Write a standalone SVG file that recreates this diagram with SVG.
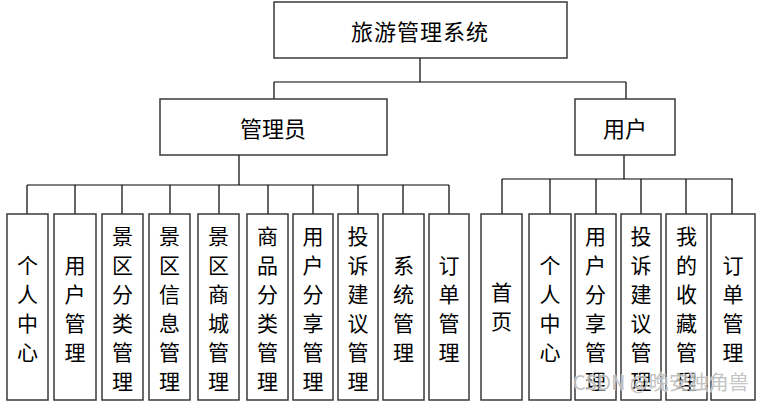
<svg xmlns="http://www.w3.org/2000/svg" width="762" height="401" viewBox="0 0 762 401">
<style>
.box{fill:#fff;stroke:#3a3a3a;stroke-width:1.5}
.ln{fill:none;stroke:#000;stroke-width:1.2}
.t{font-family:"Noto Sans CJK SC","Noto Sans",sans-serif;font-size:21px;fill:#000;text-anchor:middle;dominant-baseline:central}
.h{font-size:22px}
.wm{font-family:"Noto Sans CJK SC","Noto Sans",sans-serif;font-size:20px;fill:#b4b4b4;fill-opacity:0.8;stroke:#fff;stroke-width:1.5;stroke-opacity:0.6;paint-order:stroke}
</style>
<rect width="762" height="401" fill="#fff"/>
<g id="connectors">
<path class="ln" d="M420,58V82M274,82H626M274,82V99M626,82V99"/>
<path class="ln" d="M239,155V185M27,185H449M27,185V214M75,185V214M122,185V214M170,185V214M219,185V214M268,185V214M313,185V214M358,185V214M403,185V214M449,185V214"/>
<path class="ln" d="M624,155V179M502,179H733M502,179V214M550,179V214M596,179V214M641,179V214M686,179V214M732,179V214"/>
</g>
<g id="root"><rect class="box" x="274" y="2" width="293" height="56"/><text class="t h" x="420" y="30" letter-spacing="1">旅游管理系统</text></g>
<g id="admin"><rect class="box" x="160" y="99" width="227" height="56"/><text class="t h" x="273" y="127">管理员</text></g>
<g id="user"><rect class="box" x="575" y="99" width="100" height="56"/><text class="t h" x="625" y="127">用户</text></g>

<g id="a1"><rect class="box" x="7" y="214" width="41" height="186"/><text class="t"><tspan x="27.5" y="263.5">个</tspan><tspan x="27.5" y="292.5">人</tspan><tspan x="27.5" y="321.5">中</tspan><tspan x="27.5" y="350.5">心</tspan></text></g>
<g id="a2"><rect class="box" x="54" y="214" width="42" height="186"/><text class="t"><tspan x="75" y="263.5">用</tspan><tspan x="75" y="292.5">户</tspan><tspan x="75" y="321.5">管</tspan><tspan x="75" y="350.5">理</tspan></text></g>
<g id="a3"><rect class="box" x="102" y="214" width="41" height="186"/><text class="t"><tspan x="122.5" y="234.5">景</tspan><tspan x="122.5" y="263.5">区</tspan><tspan x="122.5" y="292.5">分</tspan><tspan x="122.5" y="321.5">类</tspan><tspan x="122.5" y="350.5">管</tspan><tspan x="122.5" y="379.5">理</tspan></text></g>
<g id="a4"><rect class="box" x="149" y="214" width="41" height="186"/><text class="t"><tspan x="169.5" y="234.5">景</tspan><tspan x="169.5" y="263.5">区</tspan><tspan x="169.5" y="292.5">信</tspan><tspan x="169.5" y="321.5">息</tspan><tspan x="169.5" y="350.5">管</tspan><tspan x="169.5" y="379.5">理</tspan></text></g>
<g id="a5"><rect class="box" x="198" y="214" width="41" height="186"/><text class="t"><tspan x="218.5" y="234.5">景</tspan><tspan x="218.5" y="263.5">区</tspan><tspan x="218.5" y="292.5">商</tspan><tspan x="218.5" y="321.5">城</tspan><tspan x="218.5" y="350.5">管</tspan><tspan x="218.5" y="379.5">理</tspan></text></g>
<g id="a6"><rect class="box" x="247" y="214" width="41" height="186"/><text class="t"><tspan x="267.5" y="234.5">商</tspan><tspan x="267.5" y="263.5">品</tspan><tspan x="267.5" y="292.5">分</tspan><tspan x="267.5" y="321.5">类</tspan><tspan x="267.5" y="350.5">管</tspan><tspan x="267.5" y="379.5">理</tspan></text></g>
<g id="a7"><rect class="box" x="293" y="214" width="40" height="186"/><text class="t"><tspan x="313" y="234.5">用</tspan><tspan x="313" y="263.5">户</tspan><tspan x="313" y="292.5">分</tspan><tspan x="313" y="321.5">享</tspan><tspan x="313" y="350.5">管</tspan><tspan x="313" y="379.5">理</tspan></text></g>
<g id="a8"><rect class="box" x="338" y="214" width="40" height="186"/><text class="t"><tspan x="358" y="234.5">投</tspan><tspan x="358" y="263.5">诉</tspan><tspan x="358" y="292.5">建</tspan><tspan x="358" y="321.5">议</tspan><tspan x="358" y="350.5">管</tspan><tspan x="358" y="379.5">理</tspan></text></g>
<g id="a9"><rect class="box" x="383" y="214" width="41" height="186"/><text class="t"><tspan x="403.5" y="263.5">系</tspan><tspan x="403.5" y="292.5">统</tspan><tspan x="403.5" y="321.5">管</tspan><tspan x="403.5" y="350.5">理</tspan></text></g>
<g id="a10"><rect class="box" x="429" y="214" width="40" height="186"/><text class="t"><tspan x="449" y="263.5">订</tspan><tspan x="449" y="292.5">单</tspan><tspan x="449" y="321.5">管</tspan><tspan x="449" y="350.5">理</tspan></text></g>

<g id="u1"><rect class="box" x="481" y="214" width="41" height="186"/><text class="t"><tspan x="501.5" y="291">首</tspan><tspan x="501.5" y="320">页</tspan></text></g>
<g id="u2"><rect class="box" x="529" y="214" width="42" height="186"/><text class="t"><tspan x="550" y="263.5">个</tspan><tspan x="550" y="292.5">人</tspan><tspan x="550" y="321.5">中</tspan><tspan x="550" y="350.5">心</tspan></text></g>
<g id="u3"><rect class="box" x="575" y="214" width="41" height="186"/><text class="t"><tspan x="595.5" y="234.5">用</tspan><tspan x="595.5" y="263.5">户</tspan><tspan x="595.5" y="292.5">分</tspan><tspan x="595.5" y="321.5">享</tspan><tspan x="595.5" y="350.5">管</tspan><tspan x="595.5" y="379.5">理</tspan></text></g>
<g id="u4"><rect class="box" x="621" y="214" width="40" height="186"/><text class="t"><tspan x="641" y="234.5">投</tspan><tspan x="641" y="263.5">诉</tspan><tspan x="641" y="292.5">建</tspan><tspan x="641" y="321.5">议</tspan><tspan x="641" y="350.5">管</tspan><tspan x="641" y="379.5">理</tspan></text></g>
<g id="u5"><rect class="box" x="666" y="214" width="41" height="186"/><text class="t"><tspan x="686.5" y="234.5">我</tspan><tspan x="686.5" y="263.5">的</tspan><tspan x="686.5" y="292.5">收</tspan><tspan x="686.5" y="321.5">藏</tspan><tspan x="686.5" y="350.5">管</tspan><tspan x="686.5" y="379.5">理</tspan></text></g>
<g id="u6"><rect class="box" x="711" y="214" width="44" height="186"/><text class="t"><tspan x="733" y="263.5">订</tspan><tspan x="733" y="292.5">单</tspan><tspan x="733" y="321.5">管</tspan><tspan x="733" y="350.5">理</tspan></text></g>

<text class="wm" x="573" y="390">CSDN @晚安独角兽</text>
</svg>
